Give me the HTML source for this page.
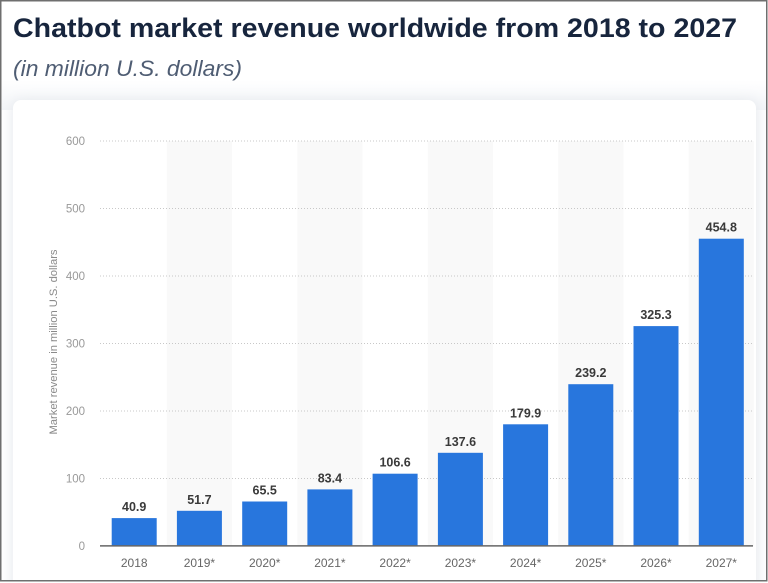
<!DOCTYPE html>
<html>
<head>
<meta charset="utf-8">
<style>
html,body{margin:0;padding:0;background:#fff;}
svg{display:block;}
</style>
</head>
<body>
<svg width="768" height="583" viewBox="0 0 768 583" xmlns="http://www.w3.org/2000/svg">
  <defs>
    <filter id="sh" x="-10%" y="-10%" width="120%" height="120%">
      <feGaussianBlur stdDeviation="6"/>
    </filter>
    <linearGradient id="bg" x1="0" y1="0" x2="0" y2="1">
      <stop offset="0" stop-color="#ffffff"/>
      <stop offset="1" stop-color="#f3f5f8"/>
    </linearGradient>
  </defs>
  <rect x="0" y="0" width="768" height="583" fill="#fff"/>
  <rect x="2" y="80" width="764" height="30" fill="url(#bg)"/>
  <!-- card shadow -->
  <rect x="11" y="99" width="748" height="500" rx="10" fill="#e8ebef" filter="url(#sh)"/>
  <rect x="13" y="100" width="743" height="500" rx="8" fill="#ffffff"/>

  <!-- title -->
  <text x="13" y="37" font-family="Liberation Sans, sans-serif" font-weight="bold" font-size="27" fill="#17253d" textLength="724" lengthAdjust="spacingAndGlyphs">Chatbot market revenue worldwide from 2018 to 2027</text>
  <text x="13" y="76" font-family="Liberation Sans, sans-serif" font-style="italic" font-size="22" fill="#4f5d73" textLength="229" lengthAdjust="spacingAndGlyphs">(in million U.S. dollars)</text>

  <!-- alternating shading -->
  <g fill="#f9f9f9">
    <rect x="166.8" y="141" width="65.2" height="405"/>
    <rect x="297.3" y="141" width="65.2" height="405"/>
    <rect x="427.8" y="141" width="65.2" height="405"/>
    <rect x="558.2" y="141" width="65.2" height="405"/>
    <rect x="688.7" y="141" width="65.2" height="405"/>
  </g>

  <!-- gridlines -->
  <g stroke="#c8c8c8" stroke-width="1" stroke-dasharray="1,2">
    <line x1="100" y1="141" x2="752" y2="141"/>
    <line x1="100" y1="208.5" x2="752" y2="208.5"/>
    <line x1="100" y1="276" x2="752" y2="276"/>
    <line x1="100" y1="343.5" x2="752" y2="343.5"/>
    <line x1="100" y1="411" x2="752" y2="411"/>
    <line x1="100" y1="478.5" x2="752" y2="478.5"/>
  </g>

  <!-- y tick labels -->
  <g font-family="Liberation Sans, sans-serif" font-size="11.5" fill="#999" text-anchor="end">
    <text x="85" y="145">600</text>
    <text x="85" y="212.5">500</text>
    <text x="85" y="280">400</text>
    <text x="85" y="347.5">300</text>
    <text x="85" y="415">200</text>
    <text x="85" y="482.5">100</text>
    <text x="85" y="550">0</text>
  </g>

  <text transform="translate(57,342) rotate(-90)" font-family="Liberation Sans, sans-serif" font-size="11" fill="#8a8a8a" text-anchor="middle" textLength="185" lengthAdjust="spacingAndGlyphs">Market revenue in million U.S. dollars</text>

  <!-- bars -->
  <g fill="#2876dd">
    <rect x="111.7" y="518.1" width="45" height="27.6"/>
    <rect x="176.9" y="510.8" width="45" height="34.9"/>
    <rect x="242.2" y="501.5" width="45" height="44.2"/>
    <rect x="307.4" y="489.4" width="45" height="56.3"/>
    <rect x="372.6" y="473.7" width="45" height="72.0"/>
    <rect x="437.9" y="452.8" width="45" height="92.9"/>
    <rect x="503.1" y="424.3" width="45" height="121.4"/>
    <rect x="568.3" y="384.2" width="45" height="161.5"/>
    <rect x="633.5" y="326.1" width="45" height="219.6"/>
    <rect x="698.8" y="238.7" width="45" height="307.0"/>
  </g>

  <!-- axis line -->
  <line x1="100" y1="545.9" x2="753" y2="545.9" stroke="#666" stroke-width="1.5"/>

  <!-- value labels -->
  <g font-family="Liberation Sans, sans-serif" font-size="12.5" font-weight="bold" fill="#3a3a3a" text-anchor="middle">
    <text x="134.2" y="511.1">40.9</text>
    <text x="199.4" y="503.8">51.7</text>
    <text x="264.7" y="494.5">65.5</text>
    <text x="329.9" y="482.4">83.4</text>
    <text x="395.1" y="466.7">106.6</text>
    <text x="460.4" y="445.8">137.6</text>
    <text x="525.6" y="417.3">179.9</text>
    <text x="590.8" y="377.2">239.2</text>
    <text x="656.0" y="319.1">325.3</text>
    <text x="721.3" y="231.7">454.8</text>
  </g>

  <!-- x labels -->
  <g font-family="Liberation Sans, sans-serif" font-size="12" fill="#666" text-anchor="middle">
    <text x="134.2" y="567">2018</text>
    <text x="199.4" y="567">2019*</text>
    <text x="264.7" y="567">2020*</text>
    <text x="329.9" y="567">2021*</text>
    <text x="395.1" y="567">2022*</text>
    <text x="460.4" y="567">2023*</text>
    <text x="525.6" y="567">2024*</text>
    <text x="590.8" y="567">2025*</text>
    <text x="656.0" y="567">2026*</text>
    <text x="721.3" y="567">2027*</text>
  </g>

  <!-- outer border -->
  <rect x="0.75" y="0.75" width="766" height="580" fill="none" stroke="#6f6f6f" stroke-width="1.5"/>
  <rect x="0" y="581.5" width="768" height="2" fill="#fff"/>
</svg>
</body>
</html>
